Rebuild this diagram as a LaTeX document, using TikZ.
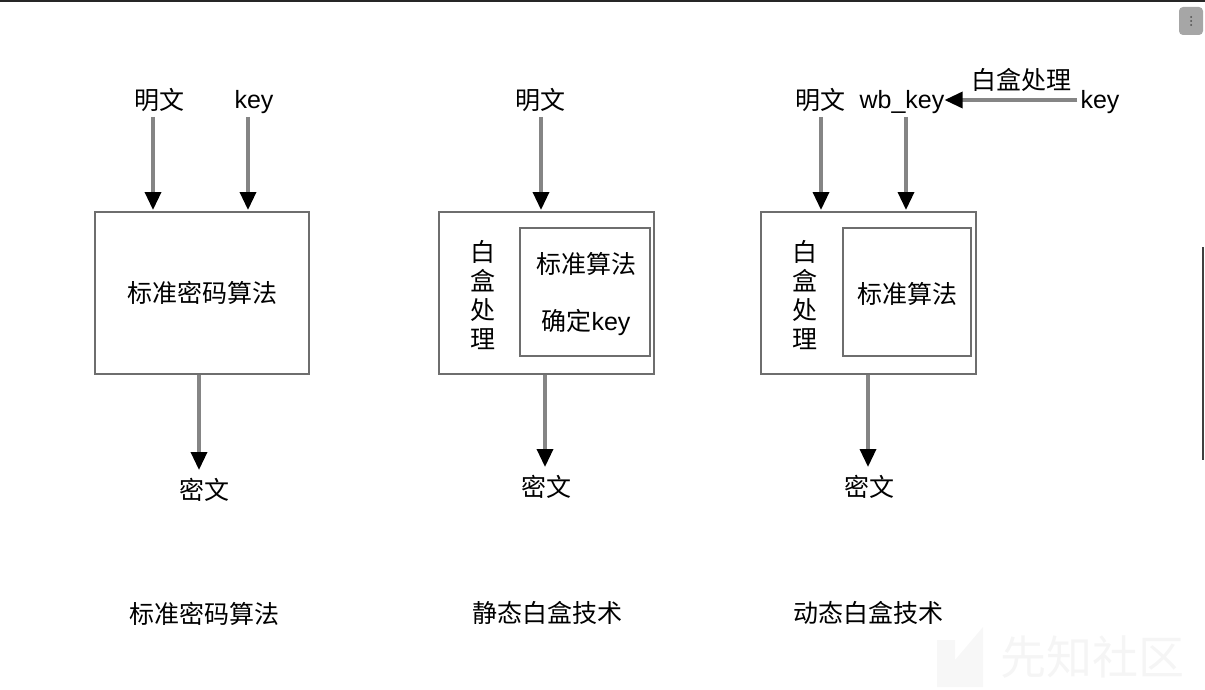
\documentclass[tikz,border=0pt]{standalone}
\usepackage{fontspec}
\setmainfont{Liberation Sans}
\newfontfamily\cjk{Noto Sans CJK SC}
\usetikzlibrary{arrows.meta}
\definecolor{boxgray}{HTML}{6E6E6E}
\definecolor{arrgray}{HTML}{858585}
\begin{document}
\begin{tikzpicture}[x=1pt,y=-1pt,
  txt/.style={inner sep=0pt, font=\fontsize{25}{29}\selectfont},
  cj/.style={inner sep=0pt, font=\fontsize{25}{29}\selectfont\cjk},
  boxo/.style={draw=boxgray, line width=2pt, inner sep=0pt},
  arr/.style={draw=arrgray, line width=3.4pt, -{Triangle[length=18pt,width=16pt,color=black]}},
]
\useasboundingbox (0,0) rectangle (1205,690);
% screen artifacts
\draw[line width=2pt, black!85] (0,1) -- (1205,1);
\node[fill=black!35, rounded corners=4pt, minimum width=24pt, minimum height=28pt, inner sep=0pt] (btn) at (1191,21) {};
\foreach \yy in {17,21,25} \fill[black!70] (1191,\yy) circle (1pt);
\draw[line width=1.5pt, black!75] (1203,247) -- (1203,460);
% watermark
\fill[black!3] (937,687) -- (937,640) -- (955,640) -- (955,660) -- (983,627) -- (983,687) -- cycle;
\node[inner sep=0pt, font=\fontsize{46}{50}\selectfont\cjk, text=black!4] (wm) at (1092,657) {先知社区};

% ---------- panel 1 ----------
\node[cj] (m1) at (159,100) {明文};
\node[txt] (k1) at (254,102) {key};
\node[boxo, cj, minimum width=214pt, minimum height=162pt] (b1) at (202,293) {标准密码算法};
\node[cj] (c1) at (204,490) {密文};
\node[cj] (l1) at (204,614) {标准密码算法};
\coordinate (i1a) at (153,210);
\coordinate (i1b) at (248,210);
\coordinate (o1) at (199,470);
\draw[arr] (m1.south -| i1a) ++(0,5) -- (i1a);
\draw[arr] (k1.south -| i1b) ++(0,3) -- (i1b);
\draw[arr] (b1.south -| o1) -- (o1);

% ---------- panel 2 ----------
\node[cj] (m2) at (540,100) {明文};
\node[boxo, minimum width=215pt, minimum height=162pt] (b2) at (546.5,293) {};
\node[boxo, minimum width=130pt, minimum height=128pt] (n2) at (585,292) {};
\node[cj, align=center] (w2) at (483,295) {白\\盒\\处\\理};
\node[cj] (s2) at (586,264) {标准算法};
\node[txt] (d2) at (586,323) {{\cjk 确定}key};
\node[cj] (c2) at (546,487) {密文};
\node[cj] (l2) at (547,613) {静态白盒技术};
\coordinate (i2a) at (541,210);
\coordinate (o2) at (545,467);
\draw[arr] (m2.south -| i2a) ++(0,5) -- (i2a);
\draw[arr] (b2.south -| o2) -- (o2);

% ---------- panel 3 ----------
\node[cj] (m3) at (820,100) {明文};
\node[txt] (wb) at (902,102) {wb\_key};
\node[txt] (k3) at (1100,102) {key};
\node[cj] (h3) at (1021,80) {白盒处理};
\node[boxo, minimum width=215pt, minimum height=162pt] (b3) at (868.5,293) {};
\node[boxo, minimum width=128pt, minimum height=128pt] (n3) at (907,292) {};
\node[cj, align=center] (w3) at (805,295) {白\\盒\\处\\理};
\node[cj] (s3) at (907,294) {标准算法};
\node[cj] (c3) at (869,487) {密文};
\node[cj] (l3) at (868,613) {动态白盒技术};
\coordinate (i3a) at (821,210);
\coordinate (i3b) at (906,210);
\coordinate (o3) at (868,467);
\draw[arr] (m3.south -| i3a) ++(0,5) -- (i3a);
\draw[arr] (wb.south -| i3b) ++(0,3) -- (i3b);
\draw[arr] (k3.west |- 0,100) ++(-3,0) -- (wb.east |- 0,100);
\draw[arr] (b3.south -| o3) -- (o3);
\end{tikzpicture}
\end{document}
